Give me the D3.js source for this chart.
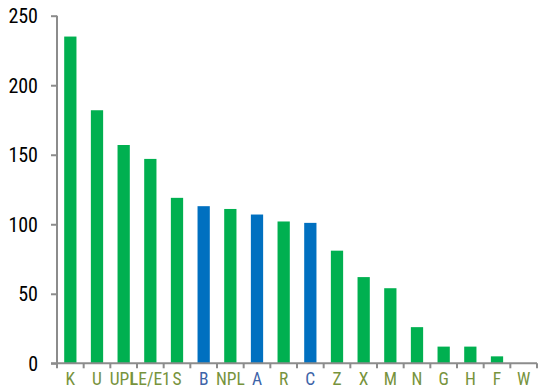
<!DOCTYPE html>
<html>
<head>
<meta charset="utf-8">
<script src="https://cdn.jsdelivr.net/npm/d3@7"></script>
<style>
  html, body { margin: 0; padding: 0; background: #fff; }
  svg { display: block; }
  text { font-family: "Liberation Sans Narrow", "Arial Narrow", "Roboto Condensed", "Liberation Sans", sans-serif; }
</style>
</head>
<body>
<svg id="chart" width="538" height="392"></svg>
<script>
// Category names, in drawing order
const categories = ["K", "U", "UPL", "LE/E1", "S", "B", "NPL", "A", "R", "C", "Z", "X", "M", "N", "G", "H", "F", "W"];
// Bar values per category
const values = [235, 182, 157, 147, 119, 113, 111, 107, 102, 101, 81, 62, 54, 26, 12, 12, 5, 0];
// Categories drawn in the highlight colour
const highlighted = ["B", "A", "C"];
// Y-axis tick values
const yTicks = [0, 50, 100, 150, 200, 250];

const GREEN = "#00b050", BLUE = "#0070c0";
const GREEN_LABEL = "#77933c", BLUE_LABEL = "#3d64a8";
const AXIS = "#8c8c8c";

const svg = d3.select("#chart");
const plotLeft = 57, plotRight = 537, plotTop = 15.7, plotBottom = 363.3;

const x = d3.scaleBand().domain(categories).range([plotLeft, plotRight]).paddingInner(0.54).paddingOuter(0.27);
const xb = d3.scaleBand().domain(categories).range([plotLeft, plotRight]);
const y = d3.scaleLinear().domain([0, 250]).range([plotBottom, plotTop]);

// Bars
svg.append("g").selectAll("rect")
  .data(categories)
  .join("rect")
  .attr("x", d => x(d))
  .attr("width", x.bandwidth())
  .attr("y", (d, i) => y(values[i]))
  .attr("height", (d, i) => y(0) - y(values[i]))
  .attr("fill", d => highlighted.includes(d) ? BLUE : GREEN);

// Y axis
const yAxis = svg.append("g")
  .attr("transform", `translate(${plotLeft},0)`)
  .call(d3.axisLeft(y).tickValues(yTicks).tickSize(6).tickPadding(13).tickFormat(d3.format("d")));
yAxis.select(".domain").attr("stroke", AXIS).attr("stroke-width", 2).attr("d", `M0,${plotTop}V${plotBottom}`);
yAxis.selectAll(".tick line").attr("stroke", AXIS).attr("stroke-width", 2);
yAxis.selectAll(".tick text")
  .attr("fill", "#000")
  .attr("font-size", 20)
  .attr("dy", "0.36em");

// X axis: ticks on category boundaries
const xAxisG = svg.append("g").attr("transform", `translate(0,${plotBottom})`);
xAxisG.append("line")
  .attr("x1", plotLeft - 6).attr("x2", plotRight)
  .attr("stroke", AXIS).attr("stroke-width", 2);
const boundaries = categories.map(c => xb(c)).concat([plotRight]);
xAxisG.selectAll("line.tk")
  .data(boundaries)
  .join("line")
  .attr("class", "tk")
  .attr("x1", d => d).attr("x2", d => d)
  .attr("y1", 0).attr("y2", 5)
  .attr("stroke", AXIS).attr("stroke-width", 2);

// Category labels
svg.append("g").selectAll("text")
  .data(categories)
  .join("text")
  .attr("x", d => xb(d) + xb.bandwidth() / 2)
  .attr("y", 385)
  .attr("text-anchor", "middle")
  .attr("font-size", 17.5)
  .attr("fill", d => highlighted.includes(d) ? BLUE_LABEL : GREEN_LABEL)
  .text(d => d);
</script>
</body>
</html>
